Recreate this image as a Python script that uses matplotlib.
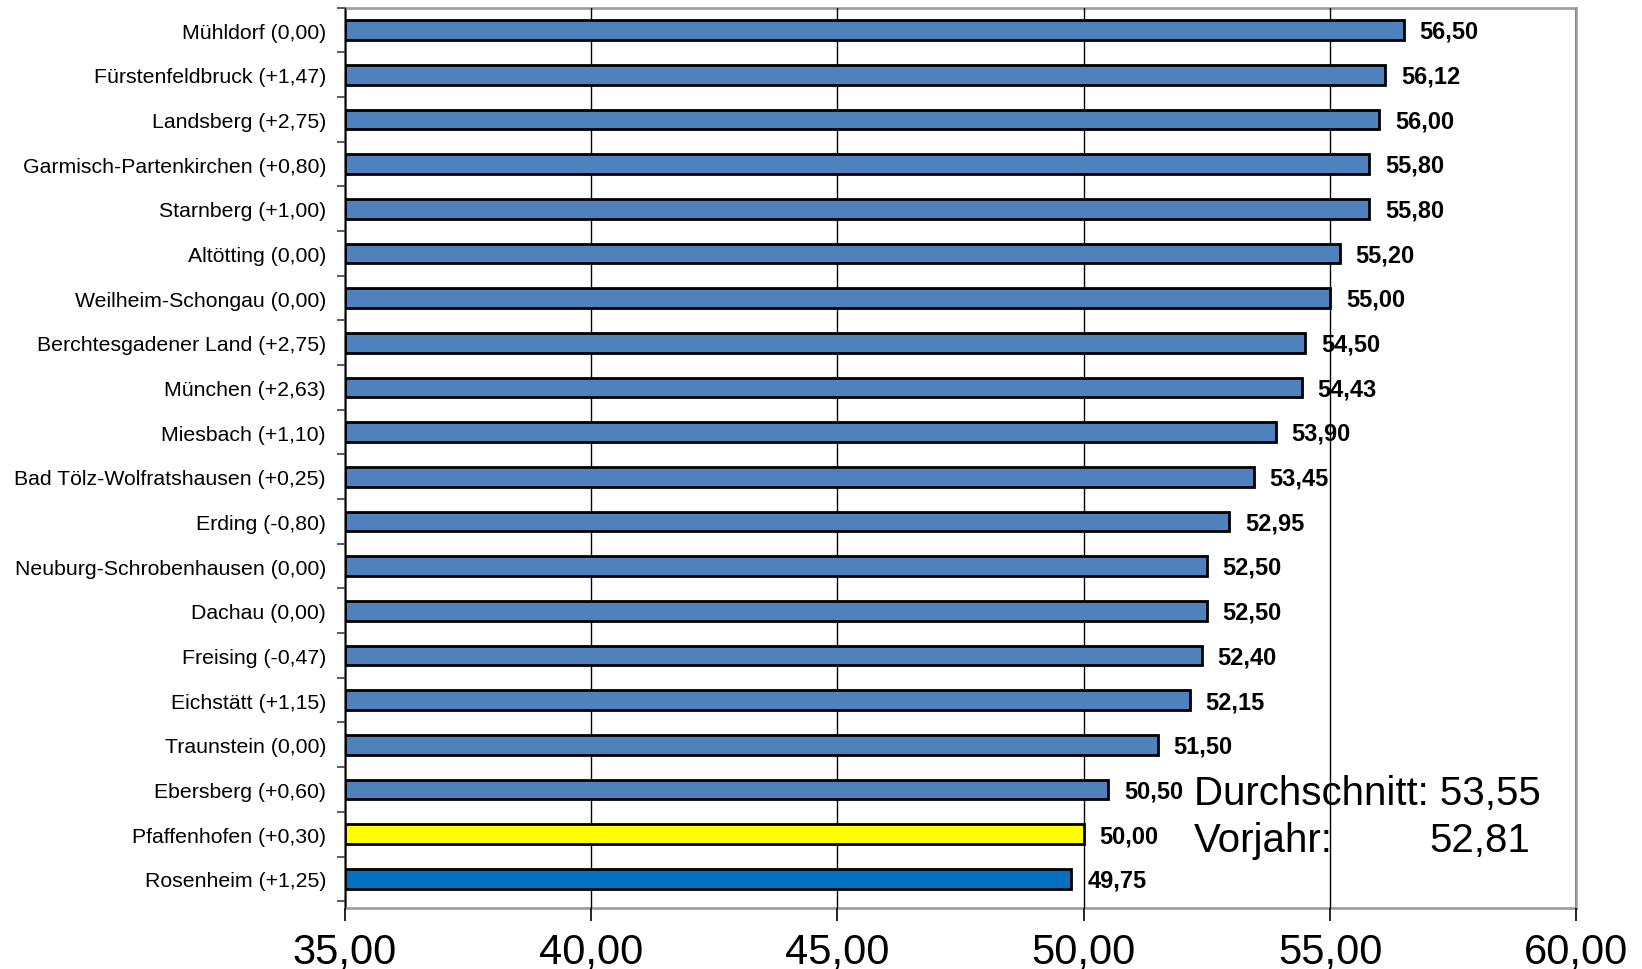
import matplotlib
matplotlib.use("Agg")
import matplotlib.pyplot as plt

plt.rcParams['font.family'] = ['Liberation Sans', 'DejaVu Sans']

categories = ["Mühldorf (0,00)", "Fürstenfeldbruck (+1,47)", "Landsberg (+2,75)",
              "Garmisch-Partenkirchen (+0,80)", "Starnberg (+1,00)", "Altötting (0,00)",
              "Weilheim-Schongau (0,00)", "Berchtesgadener Land (+2,75)", "München (+2,63)",
              "Miesbach (+1,10)", "Bad Tölz-Wolfratshausen (+0,25)", "Erding (-0,80)",
              "Neuburg-Schrobenhausen (0,00)", "Dachau (0,00)", "Freising (-0,47)",
              "Eichstätt (+1,15)", "Traunstein (0,00)", "Ebersberg (+0,60)",
              "Pfaffenhofen (+0,30)", "Rosenheim (+1,25)"]
values = [56.50, 56.12, 56.00, 55.80, 55.80, 55.20, 55.00, 54.50, 54.43, 53.90,
          53.45, 52.95, 52.50, 52.50, 52.40, 52.15, 51.50, 50.50, 50.00, 49.75]
xticks = [35, 40, 45, 50, 55, 60]
average = 53.55
previous = 52.81

colors = ["#4F81BD"] * len(values)
colors[18] = "#FFFF00"
colors[19] = "#0070C0"

def fmt(v):
    return f"{v:.2f}".replace(".", ",")

fig = plt.figure(figsize=(16.42, 9.70), dpi=100)
ax = fig.add_axes([0.210, 0.063, 0.750, 0.928])

ypos = list(range(len(values)))
ax.barh(ypos, [v - 35 for v in values], left=35, height=0.44, color=colors,
        edgecolor="black", linewidth=2, zorder=3)

for y, v in zip(ypos, values):
    ax.text(v + 0.32, y + 0.03, fmt(v), ha="left", va="center", fontsize=17,
            fontweight="bold", color="black", zorder=2)

ax.set_xlim(35, 60)
ax.set_ylim(19.65, -0.5)
ax.set_xticks(xticks)
ax.set_xticklabels([fmt(t) for t in xticks], fontsize=30)
ax.set_yticks(ypos)
ax.set_yticklabels(categories, fontsize=15.3)
ax.set_yticks([i + 0.5 for i in range(-1, len(values))], minor=True)
ax.tick_params(axis="y", which="major", length=0, pad=13.5)
ax.tick_params(axis="y", which="minor", length=6, width=1.2, color="#404040", direction="out")
ax.tick_params(axis="x", which="major", length=9, width=1.2, color="black", pad=8)

ax.grid(axis="x", color="black", linewidth=1, zorder=4)
ax.set_axisbelow(False)
for side in ["top", "right", "bottom"]:
    ax.spines[side].set_color("#a0a0a0")
    ax.spines[side].set_linewidth(2)
ax.spines["left"].set_color("#606060")
ax.spines["left"].set_linewidth(2)

ax.text(52.24, 17.08, f"Durchschnitt: {fmt(average)}", fontsize=29, ha="left",
        va="center", zorder=1)
ax.text(52.24, 18.14, "Vorjahr:", fontsize=29, ha="left", va="center", zorder=1)
ax.text(59.07, 18.14, fmt(previous), fontsize=29, ha="right", va="center", zorder=1)

fig.savefig("out.png", dpi=100)
